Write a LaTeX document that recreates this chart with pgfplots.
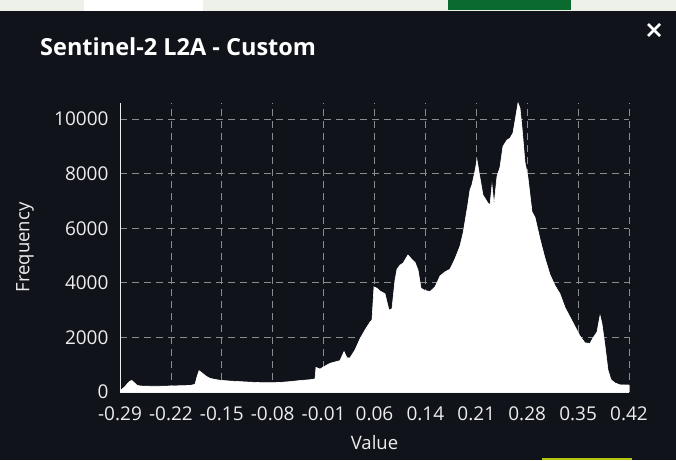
\documentclass[border=0pt]{standalone}
\usepackage{fontspec}
\setmainfont{Open Sans}
\usepackage{pgfplots}
\pgfplotsset{compat=1.18}
\definecolor{panel}{HTML}{11131B}
\definecolor{mapgray}{HTML}{EEF0EA}
\definecolor{mapgreen}{HTML}{0B6A2E}
\definecolor{limebar}{HTML}{B4C30E}
\definecolor{gridc}{HTML}{8A8C90}
\definecolor{txt}{HTML}{EDEDED}

\begin{document}
\begin{tikzpicture}[x=1pt,y=1pt]
  \fill[panel] (0,0) rectangle (676,460);
  % map showing above the panel
  \fill[mapgray] (0,448.5) rectangle (676,460);
  \fill[white] (84,448.5) rectangle (203,460);
  \fill[mapgreen] (448,449.5) rectangle (571,460);
  \fill[limebar] (542,0) rectangle (632,2.5);
  \node[anchor=base west, text=white, inner sep=0pt,
        font=\bfseries\fontsize{23.5}{27}\selectfont] at (40,404) {Sentinel-2 L2A - Custom};
  \draw[white, line width=2.6pt] (648,436) -- (660,424) (648,424) -- (660,436);

  \begin{axis}[
    at={(120pt,68pt)}, anchor=south west,
    scale only axis, width=509pt, height=289pt,
    xmin=-0.29, xmax=0.42, ymin=0, ymax=10590,
    axis x line*=bottom, axis y line*=left,
    axis line style={-, draw=txt, line width=0.9pt},
    major tick length=0pt,
    scaled y ticks=false,
    xtick={-0.29,-0.219,-0.148,-0.077,-0.006,0.065,0.136,0.207,0.278,0.349,0.42},
    xticklabels={-0.29,-0.22,-0.15,-0.08,-0.01,0.06,0.14,0.21,0.28,0.35,0.42},
    ytick={0,2000,4000,6000,8000,10000},
    yticklabels={0,2000,4000,6000,8000,10000},
    grid=major,
    grid style={gridc, dash pattern=on 7pt off 5pt, line width=0.8pt},
    tick label style={text=txt, font=\fontsize{19}{22}\selectfont},
    xticklabel style={yshift=-11pt},
    yticklabel style={xshift=-8pt},
    xlabel={Value}, ylabel={Frequency},
    label style={text=txt, font=\fontsize{18.5}{22}\selectfont},
    xlabel style={at={(axis description cs:0.5,0)}, anchor=center, yshift=-51pt},
    ylabel style={at={(axis description cs:-0.1866,0.5)}, anchor=center},
  ]
  \addplot[draw=white, fill=white, line width=0.6pt] coordinates {
    (-0.2900,50) (-0.2872,100) (-0.2830,200) (-0.2788,330) (-0.2761,400)
    (-0.2733,420) (-0.2705,350) (-0.2663,250) (-0.2621,220) (-0.2482,210)
    (-0.2342,210) (-0.2203,220) (-0.2063,230) (-0.1924,240) (-0.1854,280)
    (-0.1826,550) (-0.1798,780) (-0.1756,700) (-0.1700,580) (-0.1645,500)
    (-0.1575,460) (-0.1505,430) (-0.1366,400) (-0.1226,380) (-0.1087,360)
    (-0.0947,345) (-0.0808,340) (-0.0668,350) (-0.0529,380) (-0.0389,420)
    (-0.0250,450) (-0.0180,480) (-0.0166,900) (-0.0110,840) (-0.0040,950)
    (0.0029,1050) (0.0099,1100) (0.0169,1150) (0.0225,1480) (0.0266,1250)
    (0.0308,1250) (0.0378,1540) (0.0448,1950) (0.0517,2270) (0.0587,2560)
    (0.0615,2640) (0.0643,3850) (0.0685,3800) (0.0727,3700) (0.0796,3600)
    (0.0852,3000) (0.0894,3050) (0.0936,4100) (0.0964,4500) (0.1006,4650)
    (0.1048,4720) (0.1117,5020) (0.1173,4850) (0.1215,4750) (0.1257,4470)
    (0.1299,3800) (0.1354,3720) (0.1424,3680) (0.1494,3850) (0.1564,4250)
    (0.1633,4400) (0.1703,4500) (0.1773,4880) (0.1843,5350) (0.1884,5800)
    (0.1912,6230) (0.1954,6900) (0.1982,7400) (0.2010,7600) (0.2052,8100)
    (0.2080,8500) (0.2122,7840) (0.2163,7215) (0.2191,7100) (0.2233,6920)
    (0.2261,6850) (0.2289,7580) (0.2317,6850) (0.2359,7900) (0.2401,8240)
    (0.2442,9000) (0.2498,9230) (0.2540,9300) (0.2582,9490) (0.2624,10150)
    (0.2652,10590) (0.2680,10400) (0.2708,9670) (0.2749,8420) (0.2791,7850)
    (0.2847,6600) (0.2889,6400) (0.2959,5600) (0.3028,4900) (0.3098,4300)
    (0.3168,3900) (0.3237,3600) (0.3307,3100) (0.3377,2750) (0.3447,2400)
    (0.3517,2050) (0.3586,1800) (0.3656,1780) (0.3698,1980) (0.3754,2200)
    (0.3796,2800) (0.3823,2500) (0.3865,1700) (0.3907,800) (0.3949,450)
    (0.4005,330) (0.4075,260) (0.4144,256) (0.4200,256)
  } \closedcycle;
  \end{axis}
\end{tikzpicture}
\end{document}
